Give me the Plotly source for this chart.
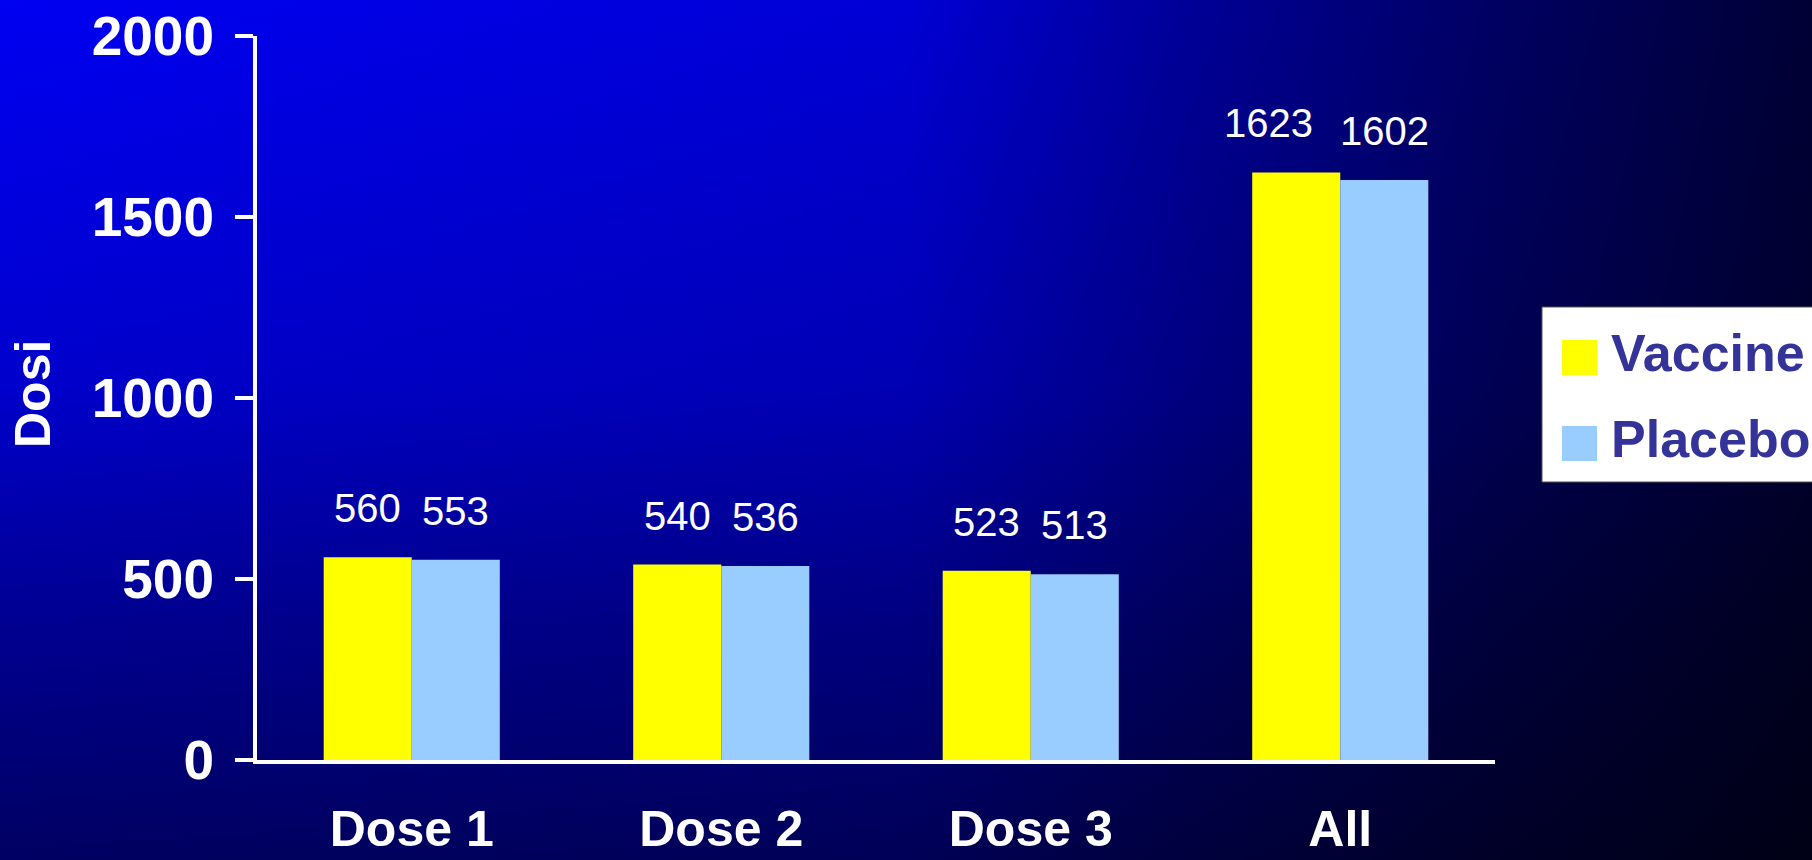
import base64
import plotly.graph_objects as go

# Doses administered per group
categories = ["Dose 1", "Dose 2", "Dose 3", "All"]
vaccine = [560, 540, 523, 1623]
placebo = [553, 536, 513, 1602]
series_names = ["Vaccine", "Placebo"]
y_ticks = [0, 500, 1000, 1500, 2000]

W, H = 1812, 860
ML, MR, MT, MB = 257, 317, 36, 100
PW, PH = W - ML - MR, H - MT - MB

FONT = "Liberation Sans, Arial, sans-serif"
YELLOW = "#FFFF00"
LIGHTBLUE = "#99CCFF"


def px_x(px):
    return (px - ML) / PW


def px_y(py):
    return (H - MB - py) / PH


# Blue slide-style background gradient as an inline SVG
svg = f"""<svg xmlns='http://www.w3.org/2000/svg' width='{W}' height='{H}' viewBox='0 0 {W} {H}' preserveAspectRatio='none'>
<defs>
<linearGradient id='v' x1='0' y1='0' x2='0' y2='1'>
<stop offset='0' stop-color='#0000F2'/>
<stop offset='0.45' stop-color='#0000CC'/>
<stop offset='0.72' stop-color='#000092'/>
<stop offset='1' stop-color='#000062'/>
</linearGradient>
<linearGradient id='h' x1='0' y1='0' x2='1' y2='0'>
<stop offset='0' stop-color='#000000' stop-opacity='0'/>
<stop offset='0.5' stop-color='#000000' stop-opacity='0.12'/>
<stop offset='0.66' stop-color='#000000' stop-opacity='0.38'/>
<stop offset='0.83' stop-color='#000000' stop-opacity='0.6'/>
<stop offset='1' stop-color='#000000' stop-opacity='0.78'/>
</linearGradient>
</defs>
<rect x='0' y='0' width='{W}' height='{H}' fill='url(#v)'/>
<rect x='0' y='0' width='{W}' height='{H}' fill='url(#h)'/>
</svg>"""
bg_src = "data:image/svg+xml;base64," + base64.b64encode(svg.encode()).decode()

fig = go.Figure()
fig.add_trace(go.Bar(x=categories, y=vaccine, name=series_names[0],
                     marker=dict(color=YELLOW, line=dict(width=0))))
fig.add_trace(go.Bar(x=categories, y=placebo, name=series_names[1],
                     marker=dict(color=LIGHTBLUE, line=dict(width=0))))

annotations = []
# Value labels above each bar; wider labels on the left bar are nudged left
for cat, v, p in zip(categories, vaccine, placebo):
    for val, shift in ((v, -44), (p, 44)):
        text = str(val)
        if shift < 0 and len(text) > 3:
            shift -= 28
        annotations.append(dict(
            x=cat, y=val, xref="x", yref="y", text=text, showarrow=False,
            xshift=shift, yshift=49, xanchor="center", yanchor="middle",
            font=dict(family=FONT, size=40, color="white")))

# Y axis title
annotations.append(dict(
    x=px_x(33), y=px_y(394), xref="paper", yref="paper", text="<b>Dosi</b>",
    showarrow=False, textangle=-90, xanchor="center", yanchor="middle",
    font=dict(family=FONT, size=50, color="white")))

# Legend box drawn by hand so the swatches can be large
shapes = [dict(type="rect", xref="paper", yref="paper",
               x0=px_x(1542), x1=px_x(1830), y0=px_y(482), y1=px_y(307),
               fillcolor="white", line=dict(color="#555555", width=1), layer="above")]
for name, color, cy in ((series_names[0], YELLOW, 357.5), (series_names[1], LIGHTBLUE, 443.5)):
    shapes.append(dict(type="rect", xref="paper", yref="paper",
                       x0=px_x(1562), x1=px_x(1597), y0=px_y(cy + 17.5), y1=px_y(cy - 17.5),
                       fillcolor=color, line=dict(width=0), layer="above"))
    annotations.append(dict(
        x=px_x(1609), y=px_y(cy - 5), xref="paper", yref="paper", text=f"<b>{name}</b>",
        showarrow=False, xanchor="left", yanchor="middle",
        font=dict(family=FONT, size=52, color="#333399")))

fig.update_layout(
    width=W, height=H,
    margin=dict(l=ML, r=MR, t=MT, b=MB, pad=0, autoexpand=False),
    paper_bgcolor="#000066",
    plot_bgcolor="rgba(0,0,0,0)",
    barmode="group", bargap=0.431, bargroupgap=0,
    showlegend=False,
    images=[dict(source=bg_src, xref="paper", yref="paper",
                 x=-ML / PW, y=1 + MT / PH, sizex=W / PW, sizey=H / PH,
                 xanchor="left", yanchor="top", sizing="stretch", layer="below")],
    shapes=shapes,
    annotations=annotations,
    xaxis=dict(
        automargin=False,
        showline=True, linecolor="white", linewidth=4, showgrid=False, zeroline=False,
        ticks="", ticklabelstandoff=22,
        tickfont=dict(family=FONT, size=50, color="white"),
        tickvals=categories, ticktext=[f"<b>{c}</b>" for c in categories],
    ),
    yaxis=dict(
        automargin=False,
        range=[0, 2000], tickvals=y_ticks, ticktext=[f"<b>{t}</b>" for t in y_ticks],
        showline=True, linecolor="white", linewidth=4, showgrid=False, zeroline=False,
        ticks="outside", ticklen=18, tickwidth=4, tickcolor="white",
        ticklabelstandoff=10,
        tickfont=dict(family=FONT, size=55, color="white"),
    ),
)

fig.write_html("out.html")
